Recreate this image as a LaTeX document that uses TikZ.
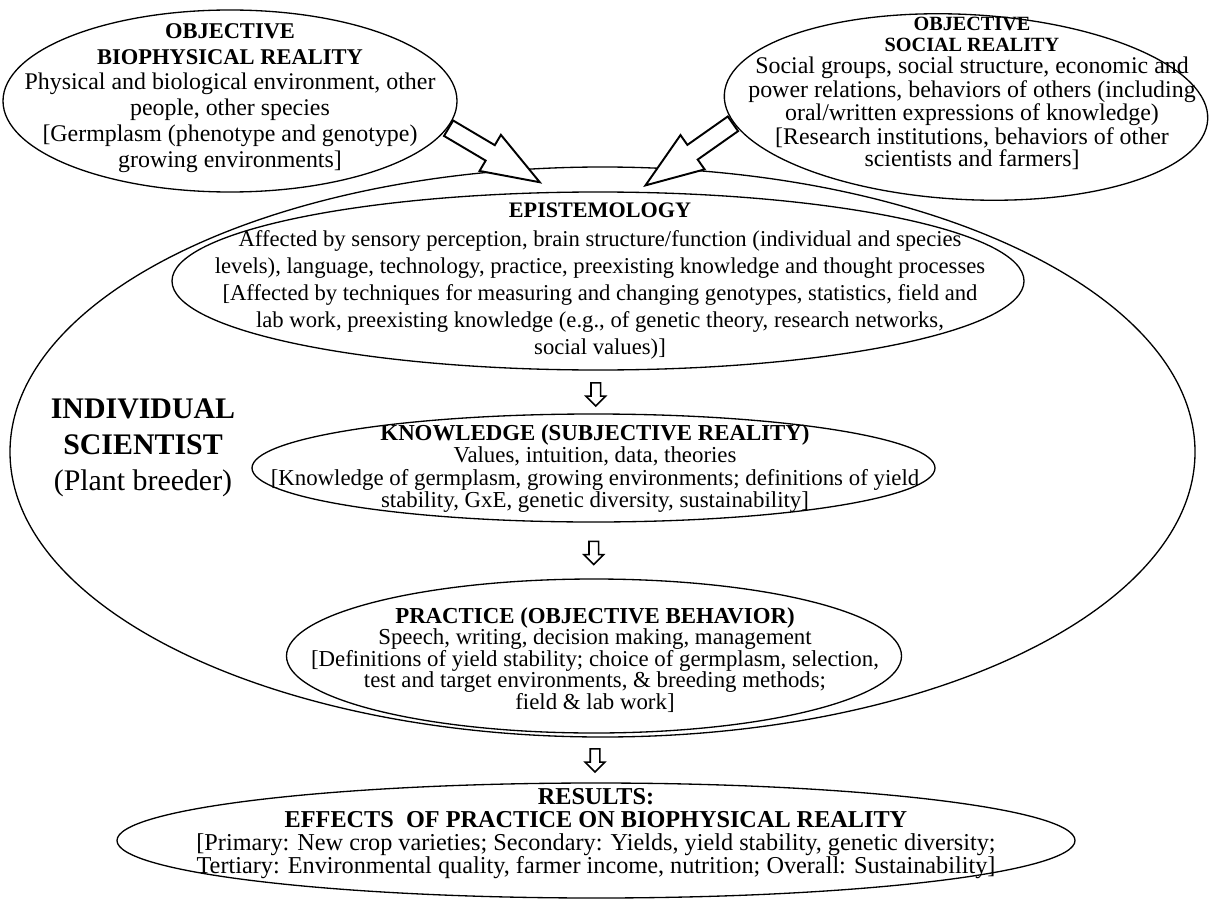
\documentclass[tikz,border=0pt]{standalone}
\usepackage{fontspec}
\setmainfont{Liberation Serif}
\usetikzlibrary{shapes.geometric,shapes.arrows}

\tikzset{
    oval/.style={draw, ellipse, line width=0.75pt, inner sep=0pt},
    txt/.style={align=center, inner sep=0pt},
    bigarrow/.style={single arrow, draw, fill=white, line width=1.1pt,
        inner xsep=0pt, inner ysep=0.16cm, single arrow head extend=0.24cm,
        single arrow tip angle=40, anchor=tail, sloped, allow upside down},
    downarrow/.style={single arrow, draw, fill=white, line width=0.9pt,
        inner xsep=0pt, inner ysep=0.08cm, single arrow head extend=0.1cm,
        minimum height=0.46cm, rotate=-90},
}

\begin{document}
\begin{tikzpicture}
    \useasboundingbox (0,0) rectangle (24.26,18);

    % Individual scientist (outer oval)
    \node[oval, minimum width=23.7cm, minimum height=11.4cm] (sci) at (12.05,8.96) {};
    \node[txt, font=\fontsize{17}{20.5}\selectfont] (scilabel) at (2.86,9.05)
        {\textbf{INDIVIDUAL}\\ \textbf{SCIENTIST}\\ (Plant breeder)};

    % Epistemology
    \node[oval, minimum width=17.04cm, minimum height=3.56cm] (epi) at (11.96,12.38) {};
    \node[txt, font=\fontsize{12.9}{15.4}\selectfont] (epitext) at (12,12.37)
        {{\fontsize{12.6}{15.4}\selectfont\bfseries EPISTEMOLOGY}\\[1pt]
         Affected by sensory perception, brain structure/function (individual and species\\
         levels), language, technology, practice, preexisting knowledge and thought processes\\
         {[}Affected by techniques for measuring and changing genotypes, statistics, field and\\
         lab work, preexisting knowledge (e.g., of genetic theory, research networks,\\
         social values)]};

    % Knowledge
    \node[oval, minimum width=13.66cm, minimum height=2.16cm] (kno) at (11.87,8.64) {};
    \node[txt, font=\fontsize{13}{12.7}\selectfont] (knotext) at (11.9,8.63)
        {\textbf{KNOWLEDGE (SUBJECTIVE REALITY)}\\
         Values, intuition, data, theories\\
         {[}Knowledge of germplasm, growing environments; definitions of yield\\
         stability, GxE, genetic diversity, sustainability]};

    % Practice
    \node[oval, minimum width=12.3cm, minimum height=3.08cm] (pra) at (11.88,4.88) {};
    \node[txt, font=\fontsize{13}{12.2}\selectfont] (pratext) at (11.9,4.8)
        {\textbf{PRACTICE (OBJECTIVE BEHAVIOR)}\\
         Speech, writing, decision making, management\\
         {[}Definitions of yield stability; choice of germplasm, selection,\\
         test and target environments, \& breeding methods;\\
         field \& lab work]};

    % Results
    \node[oval, minimum width=19.16cm, minimum height=2.3cm] (res) at (11.92,1.19) {};
    \node[txt, font=\fontsize{13.8}{13}\selectfont] (restext) at (11.92,1.33)
        {\textbf{RESULTS:}\\
         \textbf{EFFECTS\ \ OF PRACTICE ON BIOPHYSICAL REALITY}\\
         {[}Primary: New crop varieties; Secondary: Yields, yield stability, genetic diversity;\\
         Tertiary: Environmental quality, farmer income, nutrition; Overall: Sustainability]};

    % Objective biophysical reality
    \node[oval, minimum width=9.08cm, minimum height=3.64cm] (bio) at (4.6,15.98) {};
    \node[txt, font=\fontsize{13.6}{14.7}\selectfont] (biotext) at (4.6,16.04)
        {{\fontsize{12.8}{14.7}\selectfont\bfseries OBJECTIVE}\\
         {\fontsize{12.8}{14.7}\selectfont\bfseries BIOPHYSICAL REALITY}\\
         Physical and biological environment, other\\
         people, other species\\
         {[}Germplasm (phenotype and genotype)\\
         growing environments]};

    % Objective social reality
    \node[oval, minimum width=9.68cm, minimum height=3.7cm, rotate=-3] (soc) at (19.32,15.86) {};
    \node[txt, font=\fontsize{13.6}{12.3}\selectfont] (soctext) at (19.44,16.14)
        {{\fontsize{11.5}{12.3}\selectfont\bfseries OBJECTIVE}\\
         {\fontsize{11.5}{12.3}\selectfont\bfseries SOCIAL REALITY}\\
         Social groups, social structure, economic and\\
         power relations, behaviors of others (including\\
         oral/written expressions of knowledge)\\
         {[}Research institutions, behaviors of other\\
         scientists and farmers]};

    % Inputs from objective reality
    \coordinate (biotip) at (10.77,14.37);
    \coordinate (soctip) at (12.92,14.30);
    \path (bio.-7) -- (biotip) node[bigarrow, pos=0, minimum height=2.12cm] (bioarrow) {};
    \path (soc.187) -- (soctip) node[bigarrow, pos=0, minimum height=2.14cm] (socarrow) {};

    % Flow downwards
    \path (epi.south) -- (kno.north) node[downarrow, midway] (epiarrow) {};
    \path (kno.south) -- (pra.north) node[downarrow, midway] (knoarrow) {};
    \path (pra.south) -- (res.north) node[downarrow, midway] (praarrow) {};
\end{tikzpicture}
\end{document}
